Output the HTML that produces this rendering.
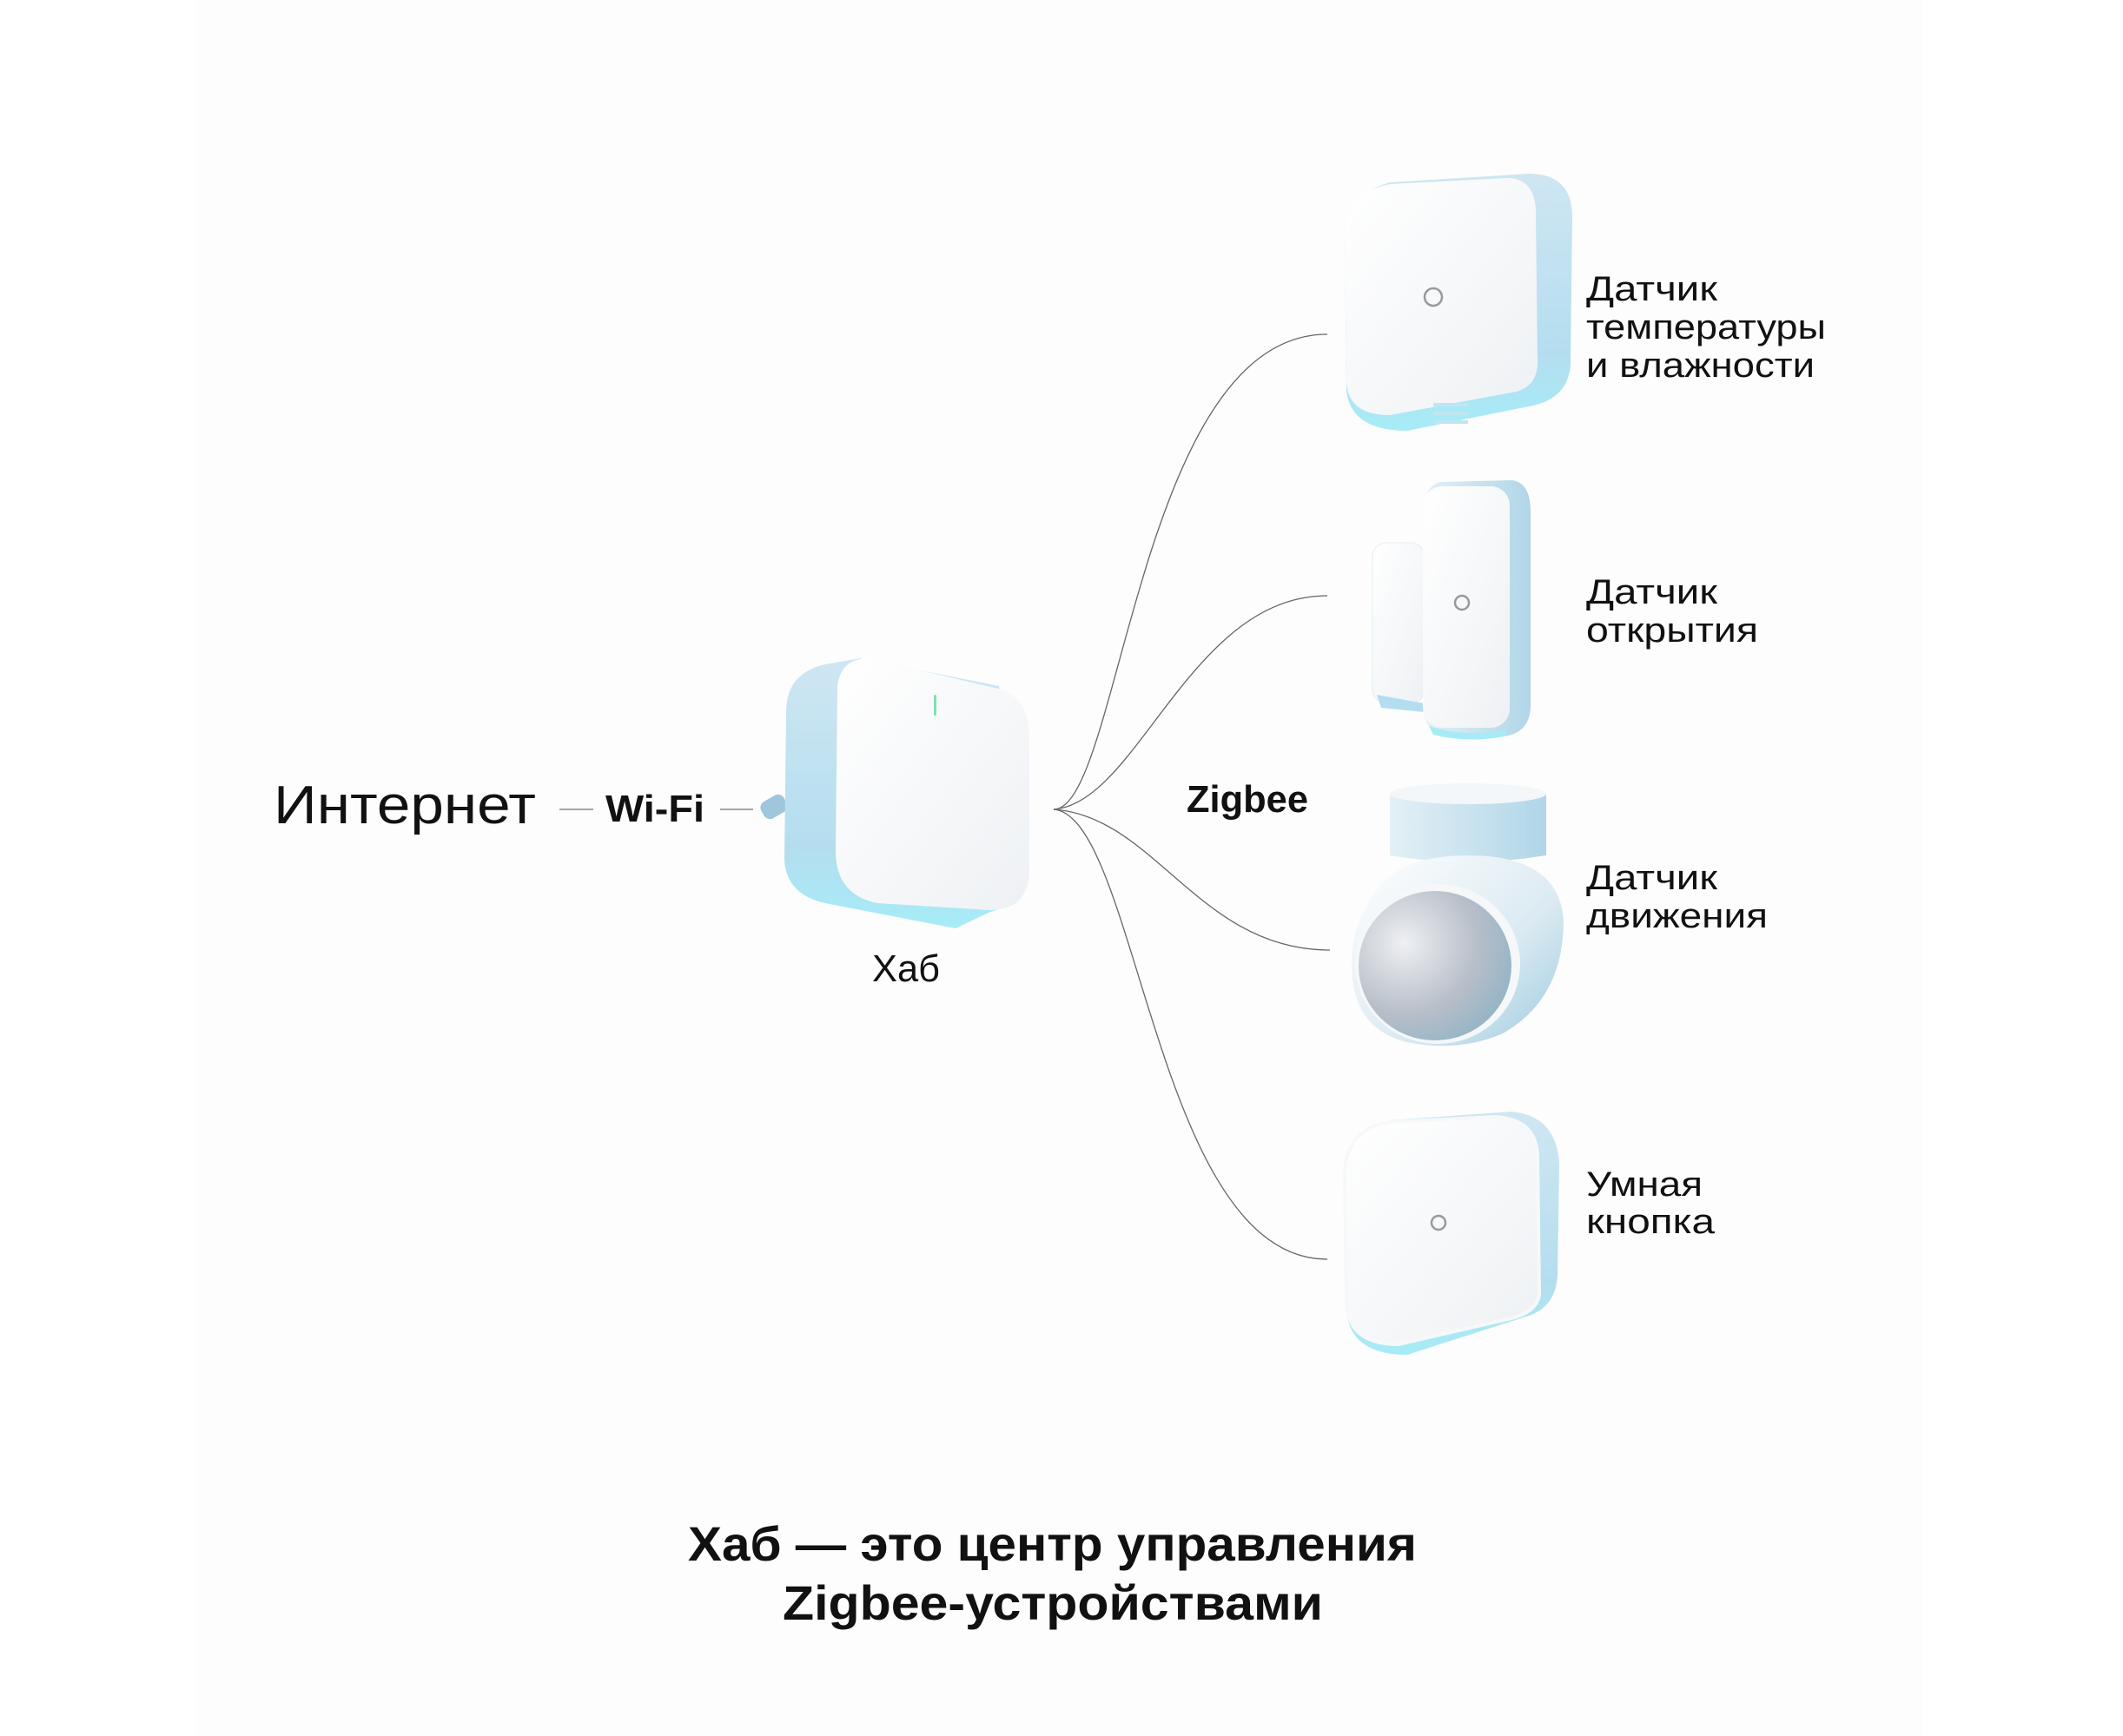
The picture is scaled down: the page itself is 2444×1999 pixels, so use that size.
<!DOCTYPE html>
<html><head><meta charset="utf-8">
<style>
html,body{margin:0;padding:0;background:#fff;}
svg{display:block;}
text{font-family:"Liberation Sans","DejaVu Sans",sans-serif;fill:#111;}
</style></head>
<body>
<svg width="2444" height="1999" viewBox="0 0 2444 1999" xmlns="http://www.w3.org/2000/svg">
<defs>
<linearGradient id="side" x1="0" y1="0" x2="0" y2="1">
<stop offset="0" stop-color="#cfe6f2"/><stop offset="0.7" stop-color="#b4def0"/><stop offset="1" stop-color="#a6ecf7"/>
</linearGradient>
<linearGradient id="face" x1="0" y1="0" x2="1" y2="1">
<stop offset="0" stop-color="#ffffff"/><stop offset="1" stop-color="#eef1f4"/>
</linearGradient>
<linearGradient id="rside" x1="0" y1="0" x2="1" y2="0">
<stop offset="0" stop-color="#e4f0f6"/><stop offset="1" stop-color="#b0d6e8"/>
</linearGradient>
<radialGradient id="lens" cx="0.3" cy="0.35" r="0.8">
<stop offset="0" stop-color="#eef0f3"/><stop offset="0.6" stop-color="#b7bec8"/><stop offset="1" stop-color="#8fb3c6"/>
</radialGradient>
<linearGradient id="ball" x1="0" y1="0" x2="1" y2="1">
<stop offset="0" stop-color="#ffffff"/><stop offset="0.6" stop-color="#dbeaf2"/><stop offset="1" stop-color="#9dcbe0"/>
</linearGradient>
</defs>
<rect x="0" y="0" width="2444" height="1999" fill="#ffffff"/>
<rect x="226" y="0" width="1988" height="1999" fill="#fdfdfd"/>

<!-- Internet / Wi-Fi -->
<text x="315" y="948" font-size="62" textLength="302" lengthAdjust="spacingAndGlyphs">Интернет</text>
<line x1="644" y1="932" x2="683" y2="932" stroke="#888" stroke-width="1.5"/>
<text x="697" y="946" font-size="44" font-weight="bold" textLength="114" lengthAdjust="spacingAndGlyphs">Wi-Fi</text>
<line x1="829" y1="932" x2="867" y2="932" stroke="#888" stroke-width="1.5"/>

<!-- Hub -->
<rect x="876" y="918" width="30" height="22" rx="8" fill="#9fc6da" transform="rotate(-30 891 929)"/>
<path d="M905 820 Q905 775 950 765 L990 758 L1150 790 L1185 1000 Q1180 1040 1140 1050 L1100 1069 L950 1040 Q905 1030 903 990 Z" fill="url(#side)"/>
<path d="M1000 758 Q968 758 964 790 L962 980 Q962 1030 1010 1040 L1140 1048 Q1185 1048 1185 1000 L1185 850 Q1185 800 1145 792 Z" fill="url(#face)"/>
<rect x="1075" y="800" width="3" height="24" rx="1.5" fill="#7fe0b0"/>
<text x="1004" y="1130" font-size="44" textLength="78" lengthAdjust="spacingAndGlyphs">Хаб</text>

<!-- Curves -->
<g fill="none" stroke="#666" stroke-width="1.3">
<path d="M1213 932 C1290 932 1310 385 1528 385"/>
<path d="M1213 932 C1310 925 1370 686 1528 686"/>
<path d="M1213 932 C1330 940 1380 1094 1531 1094"/>
<path d="M1213 932 C1310 940 1330 1450 1528 1450"/>
</g>
<text x="1366" y="935" font-size="44" font-weight="bold" textLength="140" lengthAdjust="spacingAndGlyphs">Zigbee</text>

<!-- Temp sensor -->
<path d="M1600 210 L1760 200 Q1810 200 1810 250 L1808 420 Q1805 460 1760 468 L1620 496 Q1555 496 1550 450 L1548 270 Q1550 225 1600 210 Z" fill="url(#side)"/>
<path d="M1600 212 L1735 205 Q1765 205 1768 240 L1770 420 Q1768 448 1740 452 L1600 478 Q1552 478 1550 440 L1548 270 Q1550 222 1600 212 Z" fill="url(#face)"/>
<circle cx="1650" cy="342" r="10" fill="none" stroke="#999" stroke-width="2.5"/>
<g stroke="#bfe6f0" stroke-width="4"><line x1="1650" y1="466" x2="1690" y2="466"/><line x1="1650" y1="476" x2="1690" y2="476"/><line x1="1650" y1="486" x2="1690" y2="486"/></g>
<text font-size="40"><tspan x="1826" y="346" textLength="151" lengthAdjust="spacingAndGlyphs">Датчик</tspan><tspan x="1826" y="390" textLength="276" lengthAdjust="spacingAndGlyphs">температуры</tspan><tspan x="1826" y="434" textLength="263" lengthAdjust="spacingAndGlyphs">и влажности</tspan></text>

<!-- Door sensor -->
<rect x="1580" y="625" width="60" height="185" rx="16" fill="url(#face)" stroke="#e3eef4"/>
<path d="M1585 800 L1640 810 L1640 820 L1590 815 Z" fill="#b4def0"/>
<path d="M1660 555 L1740 553 Q1762 555 1762 590 L1762 815 Q1760 845 1730 848 L1680 850 Q1640 848 1638 815 L1638 590 Q1640 557 1660 555 Z" fill="url(#rside)"/>
<rect x="1638" y="560" width="100" height="278" rx="22" fill="url(#face)"/>
<path d="M1645 836 Q1690 850 1735 840 L1732 848 Q1690 856 1650 846 Z" fill="#a6ecf7"/>
<circle cx="1683" cy="694" r="8" fill="none" stroke="#999" stroke-width="2.5"/>
<text font-size="40"><tspan x="1826" y="695" textLength="151" lengthAdjust="spacingAndGlyphs">Датчик</tspan><tspan x="1826" y="739" textLength="198" lengthAdjust="spacingAndGlyphs">открытия</tspan></text>

<!-- Motion sensor -->
<path d="M1600 915 Q1690 900 1780 915 L1780 985 Q1690 1000 1600 985 Z" fill="url(#rside)"/>
<ellipse cx="1690" cy="914" rx="90" ry="12" fill="#f3f7fa"/>
<path d="M1575 1040 Q1600 985 1690 985 Q1795 985 1800 1060 Q1800 1150 1730 1190 Q1680 1212 1620 1200 Q1556 1185 1556 1110 Q1556 1070 1575 1040 Z" fill="url(#ball)"/>
<ellipse cx="1655" cy="1110" rx="95" ry="92" fill="#f5f7f9"/>
<ellipse cx="1652" cy="1112" rx="88" ry="86" fill="url(#lens)"/>
<text font-size="40"><tspan x="1826" y="1024" textLength="151" lengthAdjust="spacingAndGlyphs">Датчик</tspan><tspan x="1826" y="1068" textLength="209" lengthAdjust="spacingAndGlyphs">движения</tspan></text>

<!-- Button -->
<path d="M1600 1290 L1740 1280 Q1792 1285 1795 1340 L1793 1470 Q1790 1505 1760 1515 L1620 1560 Q1555 1560 1550 1510 L1548 1350 Q1550 1300 1600 1290 Z" fill="url(#side)"/>
<path d="M1600 1292 L1720 1286 Q1768 1288 1770 1330 L1772 1490 Q1770 1510 1740 1518 L1610 1548 Q1552 1548 1550 1500 L1548 1350 Q1550 1300 1600 1292 Z" fill="url(#face)" stroke="#f6f8fa" stroke-width="4"/>
<circle cx="1656" cy="1408" r="8" fill="none" stroke="#999" stroke-width="2.5"/>
<text font-size="40"><tspan x="1826" y="1377" textLength="134" lengthAdjust="spacingAndGlyphs">Умная</tspan><tspan x="1826" y="1420" textLength="148" lengthAdjust="spacingAndGlyphs">кнопка</tspan></text>

<!-- Title -->
<text x="792" y="1797" font-size="56" font-weight="bold" textLength="839" lengthAdjust="spacingAndGlyphs">Хаб — это центр управления</text>
<text x="901" y="1865" font-size="56" font-weight="bold" textLength="622" lengthAdjust="spacingAndGlyphs">Zigbee-устройствами</text>
</svg>
</body></html>
